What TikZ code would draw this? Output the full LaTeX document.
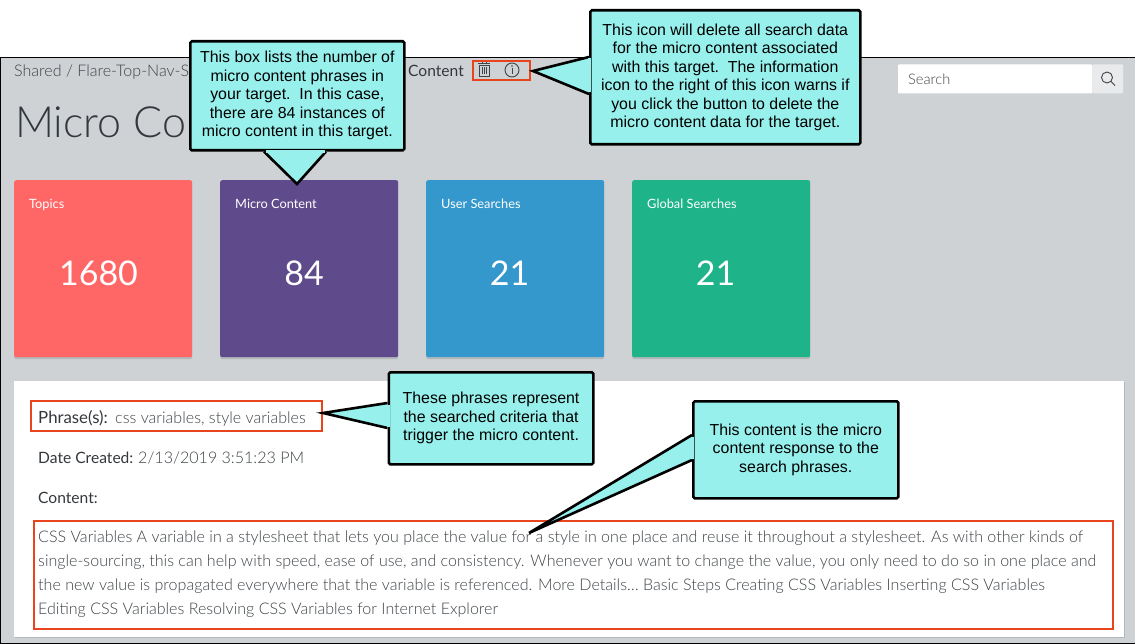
\documentclass[tikz,border=0pt]{standalone}
\usepackage{fontspec}
\setmainfont{Liberation Sans}
\newfontfamily\appfont{Lato Light}
\newfontfamily\appmedium{Lato}
\usetikzlibrary{calc,shadows}
\definecolor{panelgrey}{HTML}{CFD2D5}
\definecolor{bubbleaqua}{HTML}{97F0EC}
\definecolor{markred}{HTML}{E8451F}
\definecolor{appgrey}{HTML}{3F4448}
\definecolor{appdark}{HTML}{33383D}
\definecolor{cardred}{HTML}{FF6666}
\definecolor{cardpurple}{HTML}{5F4B8B}
\definecolor{cardblue}{HTML}{3498CC}
\definecolor{cardgreen}{HTML}{1FB38A}
\begin{document}
\begin{tikzpicture}[x=1pt,y=-1pt]
    \tikzstyle{every node}+=[inner sep=0pt]
    \tikzstyle{bubble}=[draw=black,fill=bubbleaqua,line width=2.6pt,rounded corners=1.5pt,align=center,font=\fontsize{15.9}{18.5}\selectfont,text=black]
    \tikzstyle{pointer}=[draw=black,fill=bubbleaqua,line width=2.6pt,line join=miter]
    \tikzstyle{seam}=[fill=bubbleaqua]
    \tikzstyle{redmark}=[draw=markred,line width=2.1pt]
    \tikzstyle{card}=[minimum width=178pt,minimum height=177pt,rounded corners=2pt,general shadow={shadow xshift=0pt,shadow yshift=-2pt,fill=black,opacity=0.12}]
    \tikzstyle{cardtitle}=[anchor=base west,text=white,font=\appmedium\fontsize{12.8}{15}\selectfont]
    \tikzstyle{cardnum}=[anchor=base,text=white,font=\appmedium\fontsize{34}{40}\selectfont]
    \tikzstyle{apptext}=[anchor=base west,text=appgrey,font=\appfont\fontsize{16.05}{18}\selectfont]
    \tikzstyle{applabel}=[anchor=base west,text=appdark,font=\appmedium\fontsize{15.6}{18}\selectfont]
    \useasboundingbox (0,0) rectangle (1135,644);
    \draw [black,fill=panelgrey,line width=1pt] (0.5,57.5) rectangle (1135.5,643.5);
    \node (crumb) [apptext] at (14,77) {Shared / Flare-Top-Nav-S};
    \node (crumbend) [applabel] at (408,77) {Content};
    \node (pagetitle) [anchor=base west,text=appdark,font=\appfont\fontsize{43}{50}\selectfont] at (15,138) {Micro Con};
    \node (searchfield) [anchor=west,fill=white,rounded corners=1pt,minimum width=194pt,minimum height=29pt] at (898,79) {};
    \node (searchtext) [anchor=base west,text=appgrey,font=\appfont\fontsize{14.6}{18}\selectfont] at (908,85) {Search};
    \node (searchbutton) [anchor=west,fill=black!4!panelgrey!40!white,rounded corners=1pt,minimum width=31pt,minimum height=29pt] at (1092,79) {};
    \draw [appgrey,line width=0.9pt] (1107,77.5) circle (5.5);
    \draw [appgrey,line width=0.9pt] (1111,81.5) -- (1115,85.5);
    \draw [appgrey,line width=1pt] (478,63.5) -- (490,63.5);
    \draw [appgrey,line width=0.9pt] (482,63.5) -- (482,61.5) -- (486,61.5) -- (486,63.5);
    \draw [appgrey,line width=0.9pt] (479,65) rectangle (489,76.5);
    \foreach \barx in {482,484,486}
        \draw [appgrey,line width=0.7pt] (\barx,67.5) -- (\barx,74);
    \draw [appgrey,line width=0.9pt] (512,70) circle (7);
    \draw [appgrey,line width=1pt] (512,68.5) -- (512,74.5);
    \fill [appgrey] (512,66) circle (0.9);
    \node (topics) [card,fill=cardred,anchor=north west] at (14,180) {};
    \node (microcontent) [card,fill=cardpurple,anchor=north west] at (220,180) {};
    \node (usersearches) [card,fill=cardblue,anchor=north west] at (426,180) {};
    \node (globalsearches) [card,fill=cardgreen,anchor=north west] at (632,180) {};
    \node (topicstitle) [cardtitle] at (29,208.5) {Topics};
    \node (microtitle) [cardtitle] at (235,208.5) {Micro Content};
    \node (usertitle) [cardtitle] at (441,208.5) {User Searches};
    \node (globaltitle) [cardtitle] at (647,208.5) {Global Searches};
    \node (topicsnum) [cardnum] at (98.5,286) {1680};
    \node (micronum) [cardnum] at (304,286) {84};
    \node (usernum) [cardnum] at (509.5,286) {21};
    \node (globalnum) [cardnum] at (715.5,286) {21};
    \node (detailpanel) [anchor=north west,fill=white,minimum width=1110pt,minimum height=256pt,general shadow={shadow xshift=1pt,shadow yshift=-1pt,fill=black,opacity=0.12}] at (14,381) {};
    \node (phraselabel) [applabel,font=\appmedium\fontsize{16.8}{18}\selectfont] at (38,423) {Phrase(s):};
    \node (phrasevalue) [apptext] at (115,423) {css variables, style variables};
    \node (datelabel) [applabel] at (38,463) {Date Created:};
    \node (datevalue) [apptext] at (138,463) {2/13/2019 3:51:23 PM};
    \node (contentlabel) [applabel] at (38,503) {Content:};
    \node (lineone) [apptext] at (38,542) {CSS Variables A variable in a stylesheet that lets you place the value for a style in one place and reuse it throughout a stylesheet. As with other kinds of};
    \node (linetwo) [apptext] at (38,566) {single-sourcing, this can help with speed, ease of use, and consistency. Whenever you want to change the value, you only need to do so in one place and};
    \node (linethree) [apptext] at (38,590) {the new value is propagated everywhere that the variable is referenced. More Details\ldots{} Basic Steps Creating CSS Variables Inserting CSS Variables};
    \node (linefour) [apptext] at (38,614) {Editing CSS Variables Resolving CSS Variables for Internet Explorer};
    \node (iconmark) [redmark,anchor=north west,minimum width=57pt,minimum height=19pt] at (472,60) {};
    \node (phrasemark) [redmark,anchor=north west,minimum width=291pt,minimum height=30pt] at (29.5,400) {};
    \node (contentmark) [redmark,anchor=north west,minimum width=1079pt,minimum height=108pt] at (32.5,520) {};
    \node (listbox) [bubble,anchor=north west,minimum width=214pt,minimum height=109pt] at (189,40) {This box lists the number of\\micro content phrases in\\your target.\ \ In this case,\\there are 84 instances of\\micro content in this target.};
    \coordinate (listtip) at (297,184);
    \draw [pointer] ($(listbox.south west)+(75,0)$) -- (listtip) -- ($(listbox.south west)+(137,0)$);
    \fill [seam] ($(listbox.south west)+(76.5,-2)$) rectangle ($(listbox.south west)+(135.5,1)$);
    \node (iconbox) [bubble,anchor=north west,minimum width=270pt,minimum height=134pt] at (589,9) {This icon will delete all search data\\for the micro content associated\\with this target.\ \ The information\\icon to the right of this icon warns if\\you click the button to delete the\\micro content data for the target.};
    \coordinate (icontip) at (533,71);
    \draw [pointer] ($(iconbox.north west)+(0,48)$) -- (icontip) -- ($(iconbox.north west)+(0,85)$);
    \fill [seam] ($(iconbox.north west)+(-1,49.5)$) rectangle ($(iconbox.north west)+(2,83.5)$);
    \node (phrasebox) [bubble,anchor=north west,minimum width=204.5pt,minimum height=92pt] at (387.5,371) {These phrases represent\\the searched criteria that\\trigger the micro content.};
    \coordinate (phrasetip) at (323,413);
    \draw [pointer] ($(phrasebox.north west)+(0,32)$) -- (phrasetip) -- ($(phrasebox.north west)+(0,57)$);
    \fill [seam] ($(phrasebox.north west)+(-1,33.5)$) rectangle ($(phrasebox.north west)+(2,55.5)$);
    \node (responsebox) [bubble,anchor=north west,minimum width=205pt,minimum height=97pt] at (692,400) {This content is the micro\\content response to the\\search phrases.};
    \coordinate (responsetip) at (529,533);
    \draw [pointer] ($(responsebox.north west)+(0,35)$) -- (responsetip) -- ($(responsebox.north west)+(0,60)$);
    \fill [seam] ($(responsebox.north west)+(-1,36.5)$) rectangle ($(responsebox.north west)+(2,58.5)$);
\end{tikzpicture}
\end{document}
